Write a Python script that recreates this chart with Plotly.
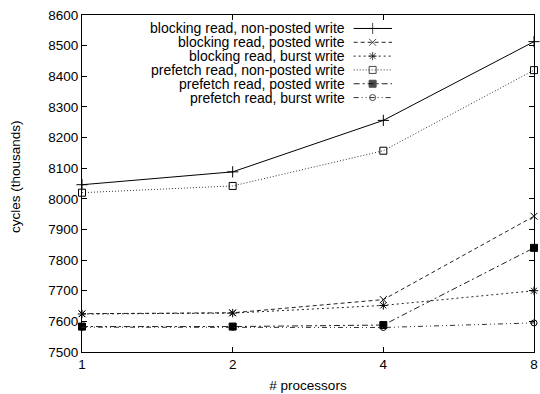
import plotly.graph_objects as go

processors = [1, 2, 4, 8]
series_names = [
    "blocking read, non-posted write",
    "blocking read, posted write",
    "blocking read, burst write",
    "prefetch read, non-posted write",
    "prefetch read, posted write",
    "prefetch read, burst write",
]
blocking_nonposted = [8046, 8088, 8256, 8513]
blocking_posted = [7625, 7628, 7671, 7943]
blocking_burst = [7624, 7627, 7652, 7700]
prefetch_nonposted = [8020, 8042, 8157, 8420]
prefetch_posted = [7583, 7583, 7588, 7840]
prefetch_burst = [7581, 7581, 7580, 7595]
y_ticks = [7500, 7600, 7700, 7800, 7900, 8000, 8100, 8200, 8300, 8400, 8500, 8600]

series_values = [blocking_nonposted, blocking_posted, blocking_burst,
                 prefetch_nonposted, prefetch_posted, prefetch_burst]
styles = [
    dict(dash="solid", symbol="cross-thin-open", size=8, color="#000"),
    dict(dash="4px,3px", symbol="x-thin-open", size=7, color="#222"),
    dict(dash="2px,3px", symbol="asterisk-open", size=7, color="#222"),
    dict(dash="1px,2px", symbol="square-open", size=7, color="#333"),
    dict(dash="6px,3px,2px,3px", symbol="square", size=7, color="#222"),
    dict(dash="5px,3px,1px,3px,1px,3px", symbol="circle-open", size=6, color="#333"),
]

fig = go.Figure()
for name, vals, st in zip(series_names, series_values, styles):
    fig.add_trace(go.Scatter(
        x=processors, y=vals, name=name, mode="lines+markers",
        line=dict(color=st["color"], width=1, dash=st["dash"]),
        marker=dict(symbol=st["symbol"], size=st["size"], color="#000",
                    line=dict(color="#000", width=1)),
        showlegend=False, cliponaxis=False,
    ))

# gnuplot-style legend: right-aligned text, sample to the right
leg_top = 0.960
leg_step = 0.0410
text_right = 0.587
samp_x0, samp_xm, samp_x1 = 0.601, 0.643, 0.686
for i, (name, st) in enumerate(zip(series_names, styles)):
    ry = leg_top - i * leg_step
    fig.add_trace(go.Scatter(
        x=[samp_x0, samp_xm, samp_x1], y=[ry, ry, ry], xaxis="x2", yaxis="y2",
        mode="lines+markers", showlegend=False, hoverinfo="skip",
        line=dict(color=st["color"], width=1, dash=st["dash"]),
        marker=dict(symbol=st["symbol"], size=[0, st["size"], 0], color="#000",
                    line=dict(color="#000", width=1)),
    ))
    fig.add_annotation(x=text_right, y=ry, xref="paper", yref="paper",
                       text=name, showarrow=False, xanchor="right", yanchor="middle",
                       font=dict(size=14, color="#000"))

# y-axis title as an annotation (sits slightly above the plot's centre)
fig.add_annotation(x=0, y=0.519, xref="paper", yref="paper", xshift=-67,
                   text="cycles (thousands)", textangle=-90, showarrow=False,
                   xanchor="center", yanchor="middle", font=dict(size=13.5, color="#000"))

axis_common = dict(showline=True, linecolor="#000", linewidth=1, mirror="ticks",
                   ticks="inside", ticklen=5, tickcolor="#000", showgrid=False,
                   zeroline=False, tickfont=dict(size=13.5, color="#000"),
                   ticklabeloverflow="allow")

fig.update_layout(
    width=540, height=394,
    margin=dict(l=82, r=2, t=15, b=42),
    paper_bgcolor="white", plot_bgcolor="white",
    font=dict(family="Liberation Sans, Arial, sans-serif", size=13.5, color="#000"),
    xaxis=dict(type="log", range=[0, 0.90309], tickvals=processors,
               ticktext=[str(p) for p in processors],
               title=dict(text="# processors", standoff=9, font=dict(size=13.5)),
               **axis_common),
    yaxis=dict(range=[7500, 8600], tickvals=y_ticks, **axis_common),
    xaxis2=dict(overlaying="x", range=[0, 1], visible=False, anchor="y2"),
    yaxis2=dict(overlaying="y", range=[0, 1], visible=False, anchor="x2"),
)

fig.write_html(
    "out.html",
    config={"displayModeBar": False},
    post_script="document.body.style.margin='0';document.documentElement.style.overflow='hidden';document.body.style.overflow='hidden';",
)
